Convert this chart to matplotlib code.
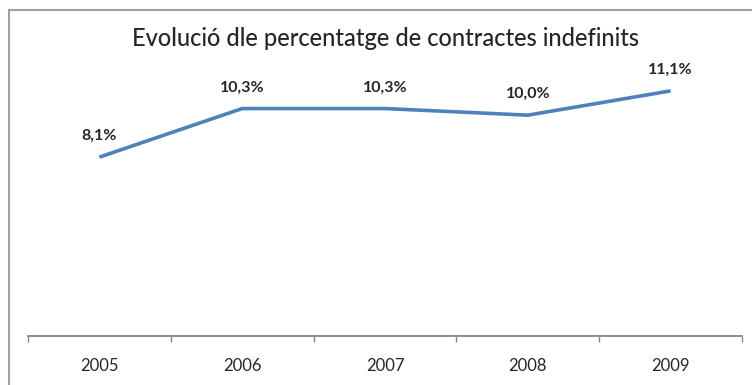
import matplotlib.pyplot as plt
from matplotlib.patches import Rectangle

years = ["2005", "2006", "2007", "2008", "2009"]
pct = [8.1, 10.3, 10.3, 10.0, 11.1]
labels = ["8,1%", "10,3%", "10,3%", "10,0%", "11,1%"]

plt.rcParams['font.family'] = ['Lato', 'DejaVu Sans']

fig = plt.figure(figsize=(7.52, 3.85), dpi=100)
ax = fig.add_axes([28 / 752, 1 - 336 / 385, (742 - 28) / 752, (336 - 71) / 385])

x = list(range(len(years)))
ax.plot(x, pct, color="#4F81BD", linewidth=2.6, solid_capstyle="butt")
for xi, v, lab in zip(x, pct, labels):
    ax.annotate(lab, (xi, v), xytext=(0, 10), textcoords="offset points",
                ha="center", va="bottom", fontsize=11.5, fontweight="bold",
                color="#262626")

ax.set_xlim(-0.5, len(years) - 0.5)
ax.set_ylim(0, 12)
ax.set_xticks(x)
ax.set_xticklabels(years, fontsize=12, color="#262626")
ax.set_xticks([i - 0.5 for i in range(len(years) + 1)], minor=True)
ax.tick_params(axis="x", which="major", length=0, pad=16)
ax.tick_params(axis="x", which="minor", length=4, color="#868686", width=1)
ax.set_yticks([])
for s in ["top", "right", "left"]:
    ax.spines[s].set_visible(False)
ax.spines["bottom"].set_color("#868686")
ax.spines["bottom"].set_linewidth(1.3)

fig.text(386 / 752, 1 - 38 / 385, "Evolució dle percentatge de contractes indefinits",
         ha="center", va="center", fontsize=17, fontweight="medium", color="#262626")

fig.patches.append(Rectangle((9 / 752, -0.1), 1.0, 1 - 10 / 385 + 0.1,
                             transform=fig.transFigure, fill=False,
                             edgecolor="#A0A0A0", linewidth=1.5))

fig.savefig("out.png", dpi=100)
